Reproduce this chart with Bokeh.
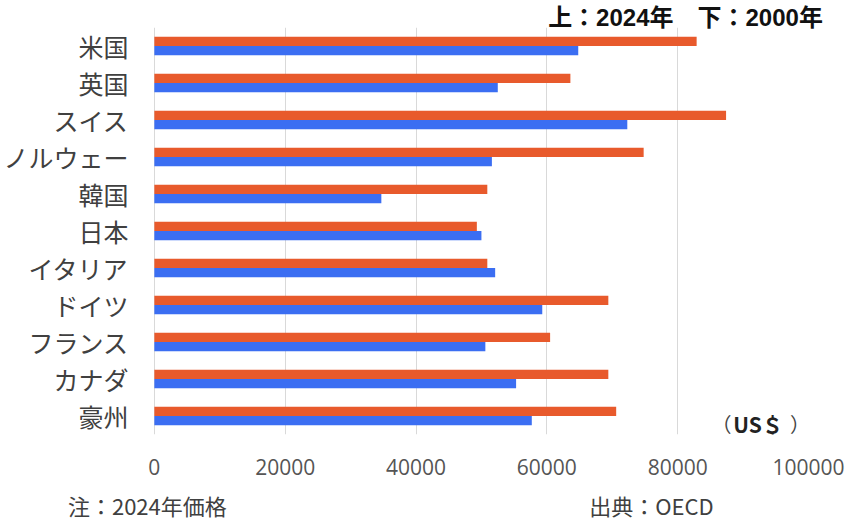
from bokeh.plotting import figure
from bokeh.models import (FactorRange, Range1d, FixedTicker, NumeralTickFormatter, Label,
                          LinearAxis, ColumnDataSource)
from bokeh.transform import dodge
from bokeh.embed import file_html
from bokeh.resources import INLINE

countries = ["米国", "英国", "スイス", "ノルウェー", "韓国", "日本", "イタリア", "ドイツ", "フランス", "カナダ", "豪州"]
wage_2024 = [82900, 63600, 87400, 74800, 50900, 49300, 50900, 69400, 60500, 69400, 70600]
wage_2000 = [64800, 52500, 72300, 51600, 34700, 50000, 52100, 59300, 50600, 55300, 57700]
x_ticks = [0, 20000, 40000, 60000, 80000, 100000]
legend_text = "上：2024年　下：2000年"
unit_text = "US＄"
note_text = "注：2024年価格"
source_text = "出典：OECD"

src = ColumnDataSource(dict(country=countries, w2024=wage_2024, w2000=wage_2000))

CJK = "Noto Sans CJK JP"
MIX = "'Liberation Sans', 'Noto Sans CJK JP'"

p = figure(width=850, height=523, output_backend="svg", toolbar_location=None,
           y_range=FactorRange(factors=list(reversed(countries))),
           x_range=Range1d(-1200, 100000),
           min_border_left=144, min_border_right=42, min_border_top=27, min_border_bottom=85)

p.hbar(y=dodge("country", 0.125, range=p.y_range), right="w2024", left=0, height=0.25,
       source=src, fill_color="#E85A2C", line_color=None)
p.hbar(y=dodge("country", -0.125, range=p.y_range), right="w2000", left=0, height=0.25,
       source=src, fill_color="#3B6EF2", line_color=None)

p.outline_line_color = None
p.background_fill_color = "white"
p.border_fill_color = "white"

p.ygrid.grid_line_color = None
p.xgrid.grid_line_color = "#d9d9d9"
p.xgrid.grid_line_width = 1

p.xaxis.ticker = FixedTicker(ticks=x_ticks)
p.xaxis.formatter = NumeralTickFormatter(format="0")
p.xaxis.axis_line_color = None
p.xaxis.major_tick_line_color = None
p.xaxis.minor_tick_line_color = None
p.xaxis.major_tick_out = 0
p.xaxis.major_label_standoff = 24
p.xaxis.major_label_text_font = "Open Sans"
p.xaxis.major_label_text_font_size = "21px"
p.xaxis.major_label_text_color = "#555555"

p.yaxis.axis_line_color = None
p.yaxis.major_tick_line_color = None
p.yaxis.major_tick_out = 0
p.yaxis.major_label_standoff = 18
p.yaxis.major_label_text_font = CJK
p.yaxis.major_label_text_font_size = "25px"
p.yaxis.major_label_text_color = "#404040"

# legend-like caption above the plot, drawn as a one-tick axis
top_ax = LinearAxis(ticker=FixedTicker(ticks=[81200]), major_label_overrides={81200: legend_text})
top_ax.axis_line_color = None
top_ax.major_tick_line_color = None
top_ax.minor_tick_line_color = None
top_ax.major_tick_out = 0
top_ax.major_label_standoff = -3
top_ax.major_label_text_font = MIX
top_ax.major_label_text_font_size = "24px"
top_ax.major_label_text_font_style = "bold"
top_ax.major_label_text_color = "#111111"
p.add_layout(top_ax, "above")

# note and source line below the axis, drawn as a two-tick axis
bot_ax = LinearAxis(ticker=FixedTicker(ticks=[-1066, 76000]),
                    major_label_overrides={-1066: note_text, 76000: source_text})
bot_ax.axis_line_color = None
bot_ax.major_tick_line_color = None
bot_ax.minor_tick_line_color = None
bot_ax.major_tick_out = 0
bot_ax.major_label_standoff = 11
bot_ax.major_label_text_font = CJK
bot_ax.major_label_text_font_size = "22px"
bot_ax.major_label_text_color = "#404040"
p.add_layout(bot_ax, "below")

p.add_layout(Label(x=86700, y=0.29, text="（", text_font=CJK, text_font_size="20px",
                   text_color="#444444", text_align="center", text_baseline="middle"))
p.add_layout(Label(x=92300, y=0.29, text=unit_text, text_font=CJK, text_font_size="21px",
                   text_font_style="bold", text_color="#222222", text_align="center", text_baseline="middle"))
p.add_layout(Label(x=98700, y=0.29, text="）", text_font=CJK, text_font_size="20px",
                   text_color="#444444", text_align="center", text_baseline="middle"))

open("out.html", "w").write(file_html(p, INLINE))
